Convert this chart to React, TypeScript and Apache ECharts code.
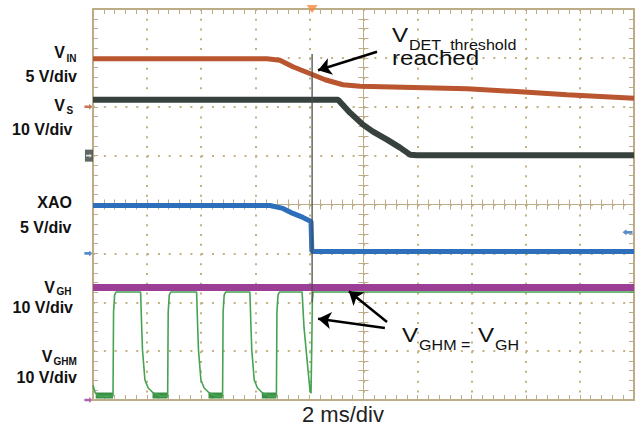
import React, { useEffect, useRef } from 'react';
import * as echarts from 'echarts';

// ---- Data read from the scope capture (time in ms, 2 ms/div, 10 div) ----
const vinTimeMs = [0, 6.43, 6.91, 7.39, 8.13, 8.58, 9.24, 9.87, 13.83, 15.79, 17.52, 20];
const vinVolts = [4.9, 4.9, 4.75, 4.09, 3.27, 2.76, 2.25, 2.1, 1.84, 1.53, 1.23, 0.87];

const vsTimeMs = [0, 9.06, 9.5, 9.98, 10.35, 10.87, 11.35, 11.72, 11.98, 20];
const vsVolts = [11.45, 11.45, 8.79, 6.34, 4.91, 3.27, 1.64, 0.2, 0.1, 0.1];

const xaoTimeMs = [0, 6.54, 7.02, 7.39, 7.76, 8.06, 8.09, 20];
const xaoVolts = [4.9, 4.9, 4.6, 4.09, 3.68, 3.27, 0.2, 0.2];

const vghTimeMs = [0, 20];
const vghVolts = [23.0, 23.0];

const vghmTimeMs = [
  0, 0.08, 0.2,
  0.74, 0.76, 0.8, 0.86, 1.76, 1.8, 1.83, 1.92, 2.04, 2.23, 2.48,
  2.76, 2.78, 2.82, 2.88, 3.83, 3.87, 3.9, 3.99, 4.11, 4.3, 4.55,
  4.79, 4.81, 4.85, 4.91, 5.8, 5.84, 5.87, 5.96, 6.08, 6.27, 6.52,
  6.78, 6.8, 6.84, 6.9, 7.73, 7.8, 7.95, 8.02, 8.06, 8.09, 8.11, 8.14, 20,
];
const vghmVolts = [
  3.0, 1.5, 0.8,
  0.8, 18, 21.5, 22.1, 22.1, 14.9, 10.2, 4.1, 2.45, 1.43, 0.8,
  0.8, 18, 21.5, 22.1, 22.1, 14.9, 10.2, 4.1, 2.45, 1.43, 0.8,
  0.8, 18, 21.5, 22.1, 22.1, 14.9, 10.2, 4.1, 2.45, 1.43, 0.8,
  0.8, 18, 21.5, 22.1, 22.1, 14.9, 6.1, 2.0, 1.4, 12, 20.4, 22.1, 22.1,
];
// noisy low-level bands of V_GHM
const vghmLowStartMs = [0.1, 2.2, 4.27, 6.24];
const vghmLowEndMs = [0.74, 2.76, 4.79, 6.78];
const vghmLowLevelV = 0.9;

// cursor (threshold reached) and trigger
const cursorTimeMs = 8.1;
const cursorSpanV = [70.8, 20]; // on the V_GH (10 V/div) scale
const triggerTimeMs = 8.1;
const xaoTriggerLevelV = 2.15;

// annotation arrows [from, to] in (ms, V) of the channel they point to
const arrowVdet = [[10.5, 5.62], [8.32, 3.73]];
const arrowVghA = [[10.87, 15.95], [9.46, 22.27]];
const arrowVghB = [[10.79, 14.72], [8.32, 16.63]];

const pairs = (t: number[], v: number[]) => t.map((x, i) => [x, v[i]]);

const TAN = '#bcad88';
const DOT = '#c4b083';
const C_VIN = '#b9552f';
const C_VS = '#37423f';
const C_XAO = '#2d6fba';
const C_VGH = '#9b3f96';
const C_VGHM = '#45a352';
const FONT = '"Liberation Sans", Arial, Helvetica, sans-serif';
const ARROW = 'path://M0,2 L6,2 L6,0 L10,3.5 L6,7 L6,5 L0,5 Z';

function divX(position: string, center: boolean, split: boolean) {
  return {
    type: 'value', min: -5, max: 5, interval: 1, position, offset: 0,
    axisLine: { show: true, onZero: center, onZeroAxisIndex: 0, lineStyle: { color: TAN, width: center ? 1 : 2 } },
    axisTick: { show: true, inside: true, length: 5, lineStyle: { color: TAN, width: 1 } },
    minorTick: { show: true, splitNumber: 5, length: 5, lineStyle: { color: TAN, width: 1 } },
    axisLabel: { show: false },
    splitLine: { show: split, lineStyle: { color: DOT, width: 2, type: [2, 7.78] } },
    minorSplitLine: { show: false },
  };
}
function divY(position: string, center: boolean, split: boolean) {
  return {
    type: 'value', min: -4, max: 4, interval: 1, position, offset: 0,
    axisLine: { show: true, onZero: center, onZeroAxisIndex: 0, lineStyle: { color: TAN, width: center ? 1 : 2 } },
    axisTick: { show: true, inside: true, length: 5, lineStyle: { color: TAN, width: 1 } },
    minorTick: { show: true, splitNumber: 5, length: 5, lineStyle: { color: TAN, width: 1 } },
    axisLabel: { show: false },
    splitLine: { show: split, lineStyle: { color: DOT, width: 2, type: [2, 8.82] } },
    minorSplitLine: { show: false },
  };
}
function chanY(min: number, max: number) {
  return { type: 'value', min, max, show: false, axisLine: { onZero: false }, splitLine: { show: false } };
}

function txt(text: string, x: number, y: number, size: number, opts: any = {}) {
  const align = opts.align || 'left';
  return {
    type: 'text', x, y, scaleX: opts.scaleX || 1, z: 100, silent: true,
    style: {
      text, x: 0, y: 0, fill: opts.fill || '#111',
      fontFamily: FONT, fontSize: size, fontWeight: opts.bold ? 'bold' : 'normal',
      textAlign: align, align, textVerticalAlign: 'middle', verticalAlign: 'middle',
    },
  };
}

function arrowMark(a: number[][]) {
  return [{ coord: a[0] }, { coord: a[1] }];
}

export default function App() {
  const ref = useRef<HTMLDivElement>(null);
  useEffect(() => {
    if (!ref.current) return;
    const chart = echarts.init(ref.current, undefined, { renderer: 'svg' });
    const lowBand: any[] = [];
    vghmLowStartMs.forEach((s, i) => {
      lowBand.push([s, vghmLowLevelV], [vghmLowEndMs[i], vghmLowLevelV], [vghmLowEndMs[i], null]);
    });
    const markerBase = { type: 'scatter', xAxisIndex: 4, clip: false, silent: true, z: 10 };
    const markLineBase = {
      silent: true, symbol: ['none', 'arrow'], symbolSize: 13,
      label: { show: false }, emphasis: { disabled: true },
      lineStyle: { color: '#000', width: 2.5, type: 'solid' },
      itemStyle: { color: '#000' },
    };
    const S = 1.15;
    const option: any = {
      animation: false,
      backgroundColor: '#ffffff',
      grid: { left: 93, top: 9, width: 541, height: 391, show: false },
      xAxis: [
        divX('bottom', false, true),
        divX('top', false, false),
        divX('bottom', true, false),
        divX('top', true, false),
        { type: 'value', min: 0, max: 20, show: false, axisLine: { onZero: false }, splitLine: { show: false } },
      ],
      yAxis: [
        divY('left', false, true),
        divY('right', false, false),
        divY('left', true, false),
        divY('right', true, false),
        chanY(-30, 10), // VIN 5 V/div
        chanY(-50, 30), // VS 10 V/div
        chanY(-15, 25), // XAO 5 V/div
        chanY(0, 80), // VGH / VGHM 10 V/div
      ],
      series: [
        {
          type: 'line', xAxisIndex: 4, yAxisIndex: 4, data: pairs(vinTimeMs, vinVolts),
          showSymbol: false, lineStyle: { color: C_VIN, width: 5 }, itemStyle: { color: C_VIN }, z: 3,
          markLine: { ...markLineBase, data: [arrowMark(arrowVdet)] },
        },
        {
          type: 'line', xAxisIndex: 4, yAxisIndex: 5, data: pairs(vsTimeMs, vsVolts),
          showSymbol: false, lineStyle: { color: C_VS, width: 6 }, itemStyle: { color: C_VS }, z: 3,
        },
        {
          type: 'line', xAxisIndex: 4, yAxisIndex: 6, data: pairs(xaoTimeMs, xaoVolts),
          showSymbol: false, lineStyle: { color: C_XAO, width: 5 }, itemStyle: { color: C_XAO }, z: 3,
        },
        {
          type: 'line', xAxisIndex: 4, yAxisIndex: 7, data: pairs(vghTimeMs, vghVolts),
          showSymbol: false, lineStyle: { color: C_VGH, width: 7 }, itemStyle: { color: C_VGH }, z: 3,
          markLine: { ...markLineBase, data: [arrowMark(arrowVghA), arrowMark(arrowVghB)] },
        },
        {
          type: 'line', xAxisIndex: 4, yAxisIndex: 7, data: lowBand, connectNulls: false,
          showSymbol: false, lineStyle: { color: '#3b9046', width: 6 }, itemStyle: { color: '#3b9046' }, z: 4,
        },
        {
          type: 'line', xAxisIndex: 4, yAxisIndex: 7, data: pairs(vghmTimeMs, vghmVolts),
          showSymbol: false, lineStyle: { color: C_VGHM, width: 1.6 }, itemStyle: { color: C_VGHM }, z: 4,
        },
        {
          type: 'line', xAxisIndex: 4, yAxisIndex: 7,
          data: [[cursorTimeMs, cursorSpanV[0]], [cursorTimeMs, cursorSpanV[1]]],
          showSymbol: false, lineStyle: { color: '#4d4d4d', width: 1.3 }, itemStyle: { color: '#4d4d4d' }, z: 6,
        },
        // channel ground markers and trigger marks
        { ...markerBase, yAxisIndex: 4, symbol: ARROW, symbolSize: [8, 6], itemStyle: { color: C_VIN }, data: [[-0.17, 0]] },
        { ...markerBase, yAxisIndex: 5, symbol: 'rect', symbolSize: [8, 12], itemStyle: { color: C_VS }, data: [[-0.15, 0]] },
        { ...markerBase, yAxisIndex: 5, symbol: ARROW, symbolSize: [6, 4], itemStyle: { color: '#ffffff' }, data: [[-0.15, 0]], z: 11 },
        { ...markerBase, yAxisIndex: 6, symbol: ARROW, symbolSize: [8, 6], itemStyle: { color: C_XAO }, data: [[-0.17, 0]] },
        { ...markerBase, yAxisIndex: 7, symbol: ARROW, symbolSize: [8, 6], itemStyle: { color: C_VGH }, data: [[-0.17, 0]] },
        { ...markerBase, yAxisIndex: 6, symbol: ARROW, symbolRotate: 180, symbolSize: [10, 6], itemStyle: { color: C_XAO }, data: [[19.76, xaoTriggerLevelV]] },
        { ...markerBase, yAxisIndex: 7, symbol: 'triangle', symbolRotate: 180, symbolSize: [11, 8], itemStyle: { color: '#f28a3c' }, data: [[triggerTimeMs, 80]] },
      ],
      graphic: [
        txt('V', 65, 52.5, 16, { bold: true, align: 'right' }),
        txt('IN', 66.5, 58.2, 10, { bold: true }),
        txt('5 V/div', 77, 76, 16, { bold: true, align: 'right' }),
        txt('V', 65, 105.3, 16, { bold: true, align: 'right' }),
        txt('S', 66.5, 110.3, 10, { bold: true }),
        txt('10 V/div', 72.5, 129.5, 16, { bold: true, align: 'right' }),
        txt('XAO', 72, 202.8, 16, { bold: true, align: 'right' }),
        txt('5 V/div', 71.5, 227.5, 16, { bold: true, align: 'right' }),
        txt('V', 55, 287, 16, { bold: true, align: 'right' }),
        txt('GH', 56.5, 291.5, 10, { bold: true }),
        txt('10 V/div', 73, 307.5, 16, { bold: true, align: 'right' }),
        txt('V', 52.5, 356, 16, { bold: true, align: 'right' }),
        txt('GHM', 53.5, 361, 10, { bold: true }),
        txt('10 V/div', 77, 377.5, 16, { bold: true, align: 'right' }),

        txt('V', 392, 34.7, 21, { scaleX: S }),
        txt('DET_threshold', 409, 45.2, 14, { scaleX: S }),
        txt('reached', 392, 57.8, 21, { scaleX: S }),
        txt('V', 402, 334.7, 21, { scaleX: S }),
        txt('GHM =', 419, 345.2, 14, { scaleX: S }),
        txt('V', 478, 334.7, 21, { scaleX: S }),
        txt('GH', 495, 345.2, 14, { scaleX: S }),
        txt('2 ms/div', 302, 414, 22, { fill: '#222' }),
      ],
    };
    chart.setOption(option);
    return () => chart.dispose();
  }, []);
  return (
    <div
      ref={ref}
      style={{ position: 'fixed', left: 0, top: 0, width: 639, height: 425, background: '#fff' }}
    />
  );
}
